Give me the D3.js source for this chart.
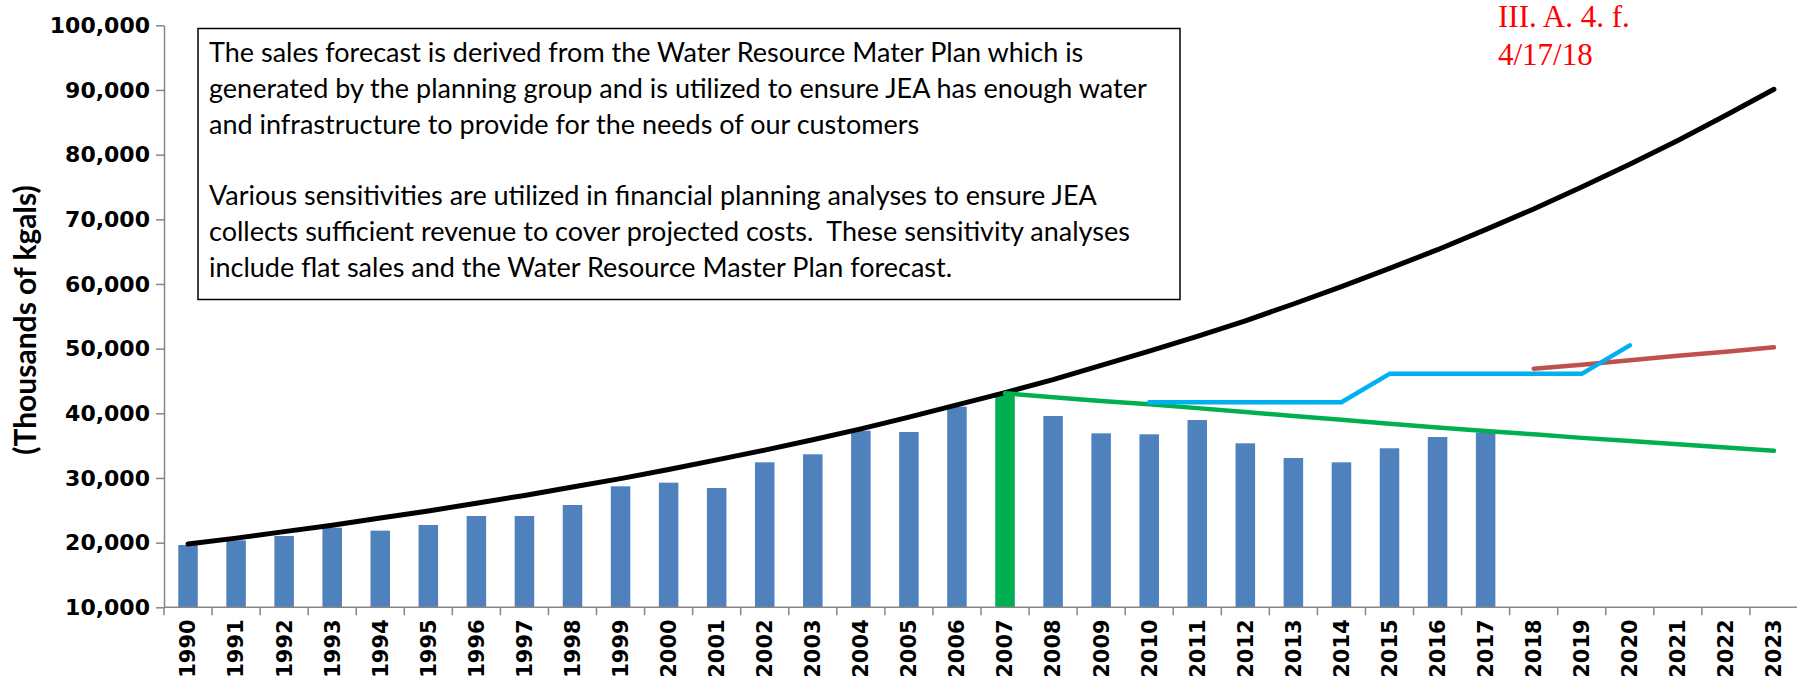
<!DOCTYPE html>
<html>
<head>
<meta charset="utf-8">
<script src="https://cdn.jsdelivr.net/npm/d3@7"></script>
<style>
  body { margin: 0; background: #fff; }
  svg { display: block; }
</style>
</head>
<body>
<div id="chart"></div>
<script>
// categories
var years = ['1990','1991','1992','1993','1994','1995','1996','1997','1998','1999',
             '2000','2001','2002','2003','2004','2005','2006','2007','2008','2009',
             '2010','2011','2012','2013','2014','2015','2016','2017','2018','2019',
             '2020','2021','2022','2023'];

// actual sales 1990-2017 (bars), 2007 drawn green
var actual = [19630, 20360, 21030, 22310, 21850, 22730, 24120, 24120, 25820, 28710,
              29270, 28450, 32420, 33660, 37310, 37110, 41020, 43200, 39580, 36900,
              36750, 38960, 35360, 33090, 32420, 34590, 36330, 37000];
var highlightYear = '2007';

// water resource master plan curve 1990-2023 (black)
var masterPlan = [19800, 20700, 21700, 22700, 23800, 24900, 26100, 27300, 28600, 29900,
                  31300, 32800, 34300, 35900, 37600, 39400, 41300, 43200, 45200, 47400,
                  49600, 51900, 54300, 56900, 59600, 62400, 65300, 68400, 71600, 75000,
                  78500, 82200, 86100, 90100];

// declining trend from 2007 (green)
var trendStart = '2007';
var trend = [43100, 42500, 41900, 41400, 40800, 40200, 39600, 39000, 38400, 37800,
             37250, 36750, 36200, 35700, 35200, 34700, 34200];

// earlier forecast 2010-2020 (light blue)
var priorStart = '2010';
var prior = [41700, 41700, 41700, 41700, 41700, 46100, 46100, 46100, 46100, 46100, 50500];

// current forecast 2018-2023 (red)
var currentStart = '2018';
var current = [46900, 47500, 48200, 48900, 49500, 50200];

var yTicks = [10000, 20000, 30000, 40000, 50000, 60000, 70000, 80000, 90000, 100000];

var noteLines = [
  'The sales forecast is derived from the Water Resource Mater Plan which is',
  'generated by the planning group and is utilized to ensure JEA has enough water',
  'and infrastructure to provide for the needs of our customers',
  '',
  'Various sensitivities are utilized in financial planning analyses to ensure JEA',
  'collects sufficient revenue to cover projected costs.  These sensitivity analyses',
  'include flat sales and the Water Resource Master Plan forecast.'
];
var stampLines = ['III. A. 4. f.', '4/17/18'];

var chart_width = 1797;
var chart_height = 680;
var plotLeft = 164, plotRight = 1798, plotTop = 25.3, plotBottom = 607.3;
var axisColor = '#868686';
var tickFont = '"DejaVu Sans", sans-serif';

var svg = d3.select('#chart')
  .append('svg')
  .attr('width', chart_width)
  .attr('height', chart_height);

var x = d3.scaleBand()
  .domain(years)
  .range([plotLeft, plotRight])
  .paddingInner(0.594)
  .paddingOuter(0.297);

var y = d3.scaleLinear()
  .domain([10000, 100000])
  .range([plotBottom, plotTop]);

function cx(yr) { return x(yr) + x.bandwidth() / 2; }

// bars
svg.selectAll('rect.bar')
  .data(actual)
  .enter()
  .append('rect')
  .attr('class', 'bar')
  .attr('x', function(d, i) { return x(years[i]); })
  .attr('y', function(d) { return y(d); })
  .attr('width', x.bandwidth())
  .attr('height', function(d) { return y(10000) - y(d); })
  .attr('fill', function(d, i) { return years[i] === highlightYear ? '#00B050' : '#4F81BD'; });

// axes
var yAxis = d3.axisLeft(y)
  .tickValues(yTicks)
  .tickSize(8)
  .tickSizeOuter(0)
  .tickPadding(6)
  .tickFormat(d3.format(','));

var gy = svg.append('g')
  .attr('transform', 'translate(' + plotLeft + ',0)')
  .call(yAxis);
gy.select('.domain').attr('stroke', axisColor).attr('stroke-width', 1.5);
gy.selectAll('.tick line').attr('stroke', axisColor).attr('stroke-width', 1.5);
gy.selectAll('.tick text')
  .attr('fill', '#000')
  .style('font-family', tickFont)
  .style('font-weight', 'bold')
  .style('font-size', '22px');

// x axis line + boundary ticks
svg.append('line')
  .attr('x1', plotLeft).attr('x2', plotRight)
  .attr('y1', plotBottom).attr('y2', plotBottom)
  .attr('stroke', axisColor).attr('stroke-width', 1.5);

var step = x.step();
var bounds = years.map(function(d) { return x(d) - step * x.paddingInner() / 2; });
bounds.push(plotRight);
svg.selectAll('line.xtick')
  .data(bounds)
  .enter()
  .append('line')
  .attr('class', 'xtick')
  .attr('x1', function(d) { return d; })
  .attr('x2', function(d) { return d; })
  .attr('y1', plotBottom)
  .attr('y2', plotBottom + 8)
  .attr('stroke', axisColor)
  .attr('stroke-width', 1.5);

svg.selectAll('text.xlab')
  .data(years)
  .enter()
  .append('text')
  .attr('class', 'xlab')
  .attr('transform', function(d) { return 'translate(' + cx(d) + ',' + (plotBottom + 12) + ') rotate(-90)'; })
  .attr('text-anchor', 'end')
  .attr('dy', '0.35em')
  .style('font-family', tickFont)
  .style('font-weight', 'bold')
  .style('font-size', '21px')
  .text(function(d) { return d; });

// y title
svg.append('text')
  .attr('transform', 'translate(25,320) rotate(-90)')
  .attr('text-anchor', 'middle')
  .attr('dy', '0.35em')
  .style('font-family', 'Lato, sans-serif')
  .style('font-weight', 'bold')
  .style('font-size', '30px')
  .text('(Thousands of kgals)');

// lines
function drawLine(values, startYear, color, w) {
  var i0 = years.indexOf(startYear);
  var line = d3.line()
    .x(function(d, i) { return cx(years[i0 + i]); })
    .y(function(d) { return y(d); });
  svg.append('path')
    .datum(values)
    .attr('d', line)
    .attr('fill', 'none')
    .attr('stroke', color)
    .attr('stroke-width', w)
    .attr('stroke-linecap', 'round')
    .attr('stroke-linejoin', 'round');
}
drawLine(masterPlan, '1990', '#000000', 5);
drawLine(trend, trendStart, '#00B050', 4.5);
drawLine(current, currentStart, '#C0504D', 4.5);
drawLine(prior, priorStart, '#00B0F0', 4.5);

// note box
svg.append('rect')
  .attr('x', 198).attr('y', 28.5)
  .attr('width', 982).attr('height', 271)
  .attr('fill', '#fff')
  .attr('stroke', '#000')
  .attr('stroke-width', 1.5);

svg.selectAll('text.note')
  .data(noteLines)
  .enter()
  .append('text')
  .attr('class', 'note')
  .attr('x', 209)
  .attr('y', function(d, i) { return 62 + i * 35.8; })
  .style('font-family', 'Lato, sans-serif')
  .style('font-size', '27px')
  .style('white-space', 'pre')
  .attr('fill', '#000')
  .text(function(d) { return d; });

// stamp
svg.selectAll('text.stamp')
  .data(stampLines)
  .enter()
  .append('text')
  .attr('class', 'stamp')
  .attr('x', 1498)
  .attr('y', function(d, i) { return 26.5 + i * 38; })
  .style('font-family', '"Liberation Serif", "Times New Roman", serif')
  .style('font-size', '31px')
  .attr('fill', '#FF0000')
  .text(function(d) { return d; });
</script>
</body>
</html>
